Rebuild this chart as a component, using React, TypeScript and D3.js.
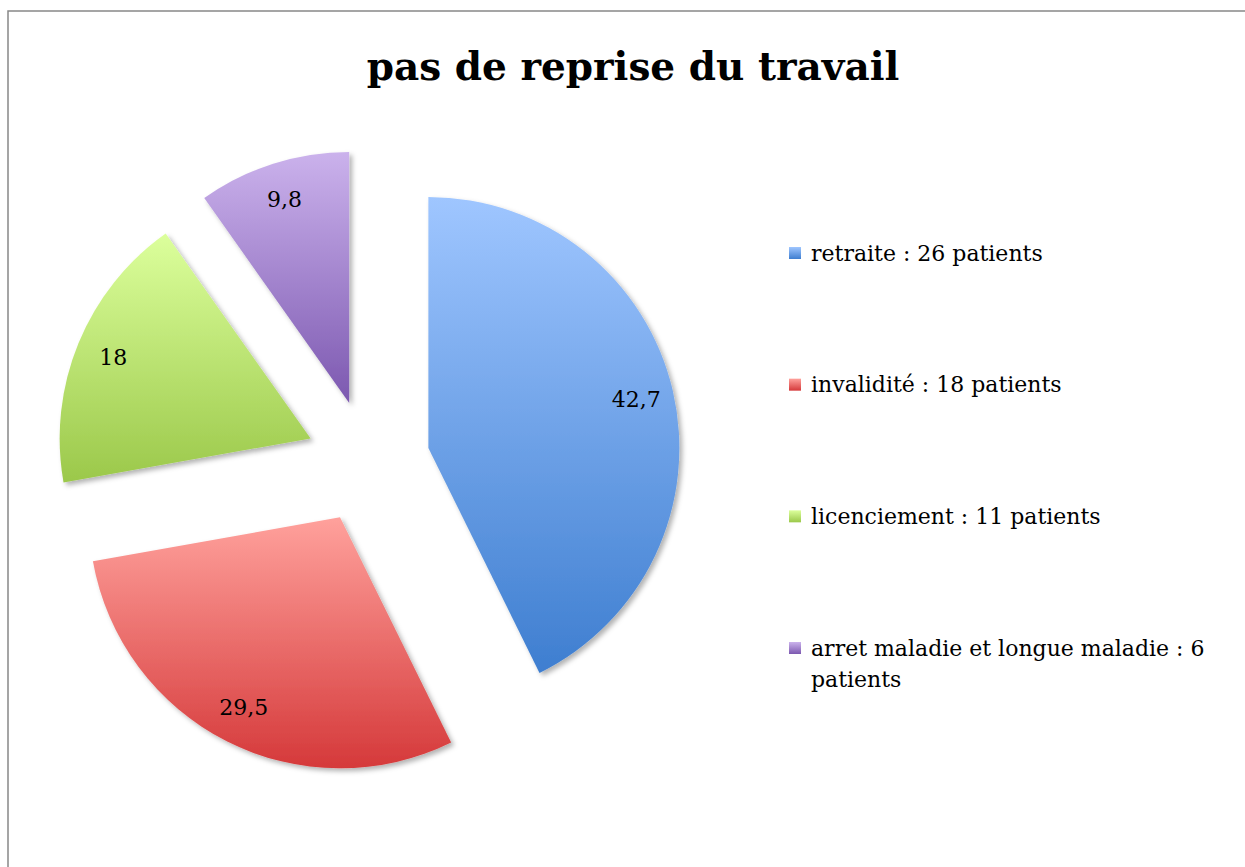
import React, { useRef, useEffect } from 'react';
import * as d3 from 'd3';

const categories = [
  'retraite : 26 patients',
  'invalidité : 18 patients',
  'licenciement : 11 patients',
  'arret maladie et longue maladie : 6 patients',
];
const values = [42.7, 29.5, 18, 9.8];
const valueLabels = ['42,7', '29,5', '18', '9,8'];
const colorsTop = ['#9fc6ff', '#ffa19c', '#dcff9c', '#cbb2ec'];
const colorsBottom = ['#3e7ed0', '#d5393a', '#9bc84a', '#7c58b0'];

function App() {
  const svgRef = useRef(null);
  const width = 1245;
  const height = 867;

  useEffect(() => {
    const svg = d3.select(svgRef.current);
    svg.selectAll('*').remove();

    const font = '"DejaVu Serif", serif';
    const cx = 368;
    const cy = 462;
    const radius = 251;
    const explode = 62;

    const defs = svg.append('defs');
    values.forEach((v, i) => {
      const g = defs.append('linearGradient')
        .attr('id', `grad${i}`)
        .attr('x1', 0).attr('y1', 0).attr('x2', 0).attr('y2', 1);
      g.append('stop').attr('offset', '0%').attr('stop-color', colorsTop[i]);
      g.append('stop').attr('offset', '100%').attr('stop-color', colorsBottom[i]);
    });
    const filter = defs.append('filter').attr('id', 'shadow')
      .attr('x', '-20%').attr('y', '-20%').attr('width', '140%').attr('height', '140%');
    filter.append('feDropShadow')
      .attr('dx', 3).attr('dy', 3).attr('stdDeviation', 2.5)
      .attr('flood-color', '#000').attr('flood-opacity', 0.3);

    // frame
    svg.append('rect')
      .attr('x', 8).attr('y', 11)
      .attr('width', width + 10).attr('height', height + 10)
      .attr('fill', '#fff')
      .attr('stroke', '#888').attr('stroke-width', 1.5);

    svg.append('text')
      .attr('x', 633).attr('y', 80)
      .attr('text-anchor', 'middle')
      .attr('font-family', font)
      .attr('font-weight', 'bold')
      .attr('font-size', 39)
      .attr('fill', '#000')
      .text('pas de reprise du travail');

    const pie = d3.pie().sort(null).value((d) => d);
    const arcs = pie(values);
    const arc = d3.arc().innerRadius(0).outerRadius(radius);

    const slices = svg.append('g').attr('transform', `translate(${cx}, ${cy})`);
    arcs.forEach((a, i) => {
      const mid = (a.startAngle + a.endAngle) / 2;
      const dx = Math.sin(mid) * explode;
      const dy = -Math.cos(mid) * explode;
      const g = slices.append('g').attr('transform', `translate(${dx}, ${dy})`);
      g.append('path')
        .attr('d', arc(a))
        .attr('fill', `url(#grad${i})`)
        .attr('filter', 'url(#shadow)');
      const lr = radius * 0.85;
      g.append('text')
        .attr('x', Math.sin(mid) * lr)
        .attr('y', -Math.cos(mid) * lr)
        .attr('dy', '0.35em')
        .attr('text-anchor', 'middle')
        .attr('font-family', font)
        .attr('font-size', 22)
        .attr('fill', '#000')
        .text(valueLabels[i]);
    });

    // legend
    const legendY = d3.scalePoint().domain(categories).range([253, 648]);
    const legend = svg.append('g');
    categories.forEach((c, i) => {
      const y = legendY(c);
      legend.append('rect')
        .attr('x', 789).attr('y', y - 6)
        .attr('width', 12).attr('height', 12)
        .attr('fill', `url(#grad${i})`);
      const words = c.split(' ');
      const lines = i === 3 ? [words.slice(0, -1).join(' '), words[words.length - 1]] : [c];
      const t = legend.append('text')
        .attr('x', 811).attr('y', y)
        .attr('font-family', font)
        .attr('font-size', 22)
        .attr('fill', '#000');
      lines.forEach((l, j) => {
        t.append('tspan').attr('x', 811).attr('dy', j === 0 ? '0.35em' : '1.4em').text(l);
      });
    });
  }, []);

  return (
    <svg ref={svgRef} width={width} height={height}
      style={{ position: 'absolute', left: 0, top: 0 }}></svg>
  );
}

export default App;
